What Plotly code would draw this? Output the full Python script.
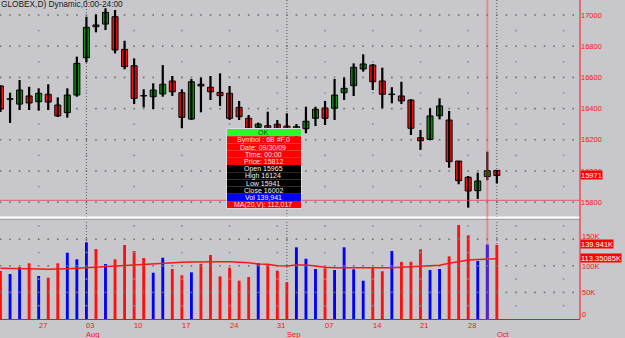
import plotly.graph_objects as go

# ---------------- data ----------------
dates = ["07/21/09", "07/22/09", "07/23/09", "07/24/09",
         "07/27/09", "07/28/09", "07/29/09", "07/30/09", "07/31/09",
         "08/03/09", "08/04/09", "08/05/09", "08/06/09", "08/07/09",
         "08/10/09", "08/11/09", "08/12/09", "08/13/09", "08/14/09",
         "08/17/09", "08/18/09", "08/19/09", "08/20/09", "08/21/09",
         "08/24/09", "08/25/09", "08/26/09", "08/27/09", "08/28/09",
         "08/31/09", "09/01/09", "09/02/09", "09/03/09", "09/04/09",
         "09/07/09", "09/08/09", "09/09/09", "09/10/09", "09/11/09",
         "09/14/09", "09/15/09", "09/16/09", "09/17/09", "09/18/09",
         "09/21/09", "09/22/09", "09/23/09", "09/24/09", "09/25/09",
         "09/28/09", "09/29/09", "09/30/09", "10/01/09"]

opens = [16545, 16460, 16429, 16481, 16444, 16492, 16423, 16374, 16487, 16726,
         16936, 16942, 16989, 16780, 16675, 16481, 16476, 16494, 16577, 16502,
         16333, 16556, 16537, 16504, 16498, 16408, 16338, 16280, 16290, 16300,
         16288, 16240, 16271, 16338, 16404, 16402, 16502, 16547, 16654, 16679,
         16577, 16490, 16481, 16455, 16213, 16203, 16354, 16327, 16064, 15960,
         15874, 15965, 16004]
highs = [16550, 16502, 16583, 16540, 16530, 16556, 16472, 16530, 16733, 16989,
         17004, 17043, 17032, 16835, 16722, 16524, 16562, 16679, 16609, 16524,
         16590, 16598, 16609, 16626, 16545, 16449, 16359, 16310, 16380, 16327,
         16370, 16301, 16412, 16412, 16449, 16590, 16598, 16690, 16748, 16686,
         16662, 16537, 16572, 16460, 16263, 16402, 16466, 16385, 16064, 15968,
         15989, 16124, 16006]
lows = [16378, 16308, 16391, 16391, 16387, 16391, 16346, 16342, 16476, 16697,
        16889, 16904, 16754, 16652, 16429, 16408, 16397, 16476, 16481, 16274,
        16327, 16376, 16455, 16417, 16327, 16327, 16237, 16230, 16200, 16210,
        16200, 16200, 16242, 16288, 16295, 16327, 16455, 16481, 16637, 16519,
        16402, 16434, 16429, 16231, 16135, 16198, 16331, 16021, 15915, 15765,
        15821, 15941, 15921]
closes = [16397, 16463, 16519, 16436, 16498, 16442, 16353, 16487, 16690, 16921,
          16925, 17017, 16776, 16669, 16466, 16481, 16519, 16556, 16508, 16344,
          16572, 16545, 16508, 16483, 16338, 16348, 16274, 16301, 16250, 16240,
          16230, 16284, 16319, 16396, 16338, 16487, 16530, 16665, 16686, 16572,
          16492, 16493, 16449, 16274, 16194, 16353, 16417, 16060, 15938, 15872,
          15936, 16002, 15971]
volumes = [90200, 84600, 97200, 104700, 80800, 77600, 104700, 124600, 112200, 144200,
           131600, 103400, 112200, 139100, 127800, 114700, 87000, 115200, 94000, 82100,
           87700, 103700, 120300, 80200, 96500, 72000, 79000, 104700, 101500, 90800,
           69000, 134800, 113300, 94000, 95300, 92100, 134800, 93400, 72000, 95300,
           89700, 127800, 107400, 107400, 131000, 92100, 94000, 117800, 176700, 157300,
           109000, 139941, 139500]
vol_ma20 = [95300, 95300, 94500, 94500, 94000, 93400, 93400, 94500, 95300, 96400,
            97200, 97700, 99100, 100200, 101500, 102800, 103400, 105300, 105800, 106600,
            107100, 107700, 107700, 107700, 107700, 107100, 105800, 103400, 102800, 100200,
            99600, 101500, 101500, 99600, 97200, 96400, 96400, 95300, 95300, 95300,
            96400, 96400, 97200, 98300, 99600, 100900, 100900, 104700, 107700, 110900,
            111800, 112017, 113350.85]

price_ticks = [15800, 16000, 16200, 16400, 16600, 16800, 17000]
price_minor = [15900, 16100, 16300, 16500, 16700, 16900]
vol_ticks = [0, 50000, 100000, 150000]
vol_tick_text = ["0", "50K", "100K", "150K"]
vol_minor = [25000, 75000, 125000, 175000]
day_labels = {"07/27/09": "27", "08/03/09": "03", "08/10/09": "10", "08/17/09": "17",
              "08/24/09": "24", "08/31/09": "31", "09/07/09": "07", "09/14/09": "14",
              "09/21/09": "21", "09/28/09": "28"}
month_labels = {"08/03/09": "Aug", "09/01/09": "Sep", "10/01/09": "Oct"}
title_text = "GLOBEX,D) Dynamic,0:00-24:00"
symbol = "6B #F,0"
cursor_date = "09/30/09"
cursor_time = "00:00"
cursor_price = 15812

# ---------------- geometry ----------------
W, H = 625, 338
ML, MR, MT, MB = 0, 45, 0, 19
PW, PH = W - ML - MR, H - MT - MB          # 580 x 319
SLOT = 9.545                                # px per trading day
X0 = -0.5 / SLOT
X1 = X0 + PW / SLOT
n_slots = int(X1) + 1
PRICE_BOTTOM_PX, VOL_TOP_PX = 216, 220
price_px_per_unit = 0.156
price_top = 17000 + 15 / price_px_per_unit
price_bot = 17000 - (PRICE_BOTTOM_PX - 15) / price_px_per_unit
vol_px_per_unit = 26.6 / 50000
vol_top = (PH - VOL_TOP_PX) / vol_px_per_unit


def xp(px):
    return px / PW


def yp(py):
    return (PH - py) / PH


BG = "#c8c7cc"
RED = "#ff1010"
GREEN = "#0f8f14"
BLUE = "#0000ff"
FONT = "Liberation Sans, Arial, sans-serif"

idx = list(range(len(dates)))
pos = {d: i for i, d in enumerate(dates)}
up = [c > o for o, c in zip(opens, closes)]

fig = go.Figure()

# grid dots (price panel)
gx, gy = [], []
for lv in price_ticks:
    for s in range(n_slots):
        gx.append(s); gy.append(lv)
mx, my = [], []
for lv in price_minor:
    for s in range(4, n_slots, 5):
        mx.append(s); my.append(lv)
fig.add_trace(go.Scatter(x=gx, y=gy, mode="markers", xaxis="x", yaxis="y",
                         marker=dict(symbol="square", size=1.6, color="#6e6e74"),
                         hoverinfo="skip"))
fig.add_trace(go.Scatter(x=mx, y=my, mode="markers", xaxis="x", yaxis="y",
                         marker=dict(symbol="square", size=1.6, color="#8a8aa6"),
                         hoverinfo="skip"))
# grid dots (volume panel)
gx2, gy2 = [], []
for lv in vol_ticks[1:]:
    for s in range(n_slots):
        gx2.append(s); gy2.append(lv)
mx2, my2 = [], []
for lv in vol_minor:
    for s in range(4, n_slots, 5):
        mx2.append(s); my2.append(lv)
fig.add_trace(go.Scatter(x=gx2, y=gy2, mode="markers", xaxis="x2", yaxis="y2",
                         marker=dict(symbol="square", size=1.6, color="#6e6e74"),
                         hoverinfo="skip"))
fig.add_trace(go.Scatter(x=mx2, y=my2, mode="markers", xaxis="x2", yaxis="y2",
                         marker=dict(symbol="square", size=1.6, color="#8a8aa6"),
                         hoverinfo="skip"))

# wicks
wx, wy = [], []
for i in idx:
    wx += [i, i, None]
    wy += [lows[i], highs[i], None]
fig.add_trace(go.Scatter(x=wx, y=wy, mode="lines", xaxis="x", yaxis="y",
                         line=dict(color="black", width=2.2), hoverinfo="skip"))

# bodies
bases = [min(o, c) for o, c in zip(opens, closes)]
heights = [max(abs(c - o), 2) for o, c in zip(opens, closes)]
body_colors = [GREEN if u else RED for u in up]
fig.add_trace(go.Bar(x=idx, y=heights, base=bases, width=0.63, xaxis="x", yaxis="y",
                     marker=dict(color=body_colors, line=dict(color="black", width=1)),
                     hoverinfo="skip"))

# volume
vcolors = [BLUE if u else RED for u in up]
fig.add_trace(go.Bar(x=idx, y=volumes, width=0.3, xaxis="x2", yaxis="y2",
                     marker=dict(color=vcolors, line=dict(width=0)), hoverinfo="skip"))
fig.add_trace(go.Scatter(x=idx, y=vol_ma20, mode="lines", xaxis="x2", yaxis="y2",
                         line=dict(color="#f21a1a", width=1.6), hoverinfo="skip"))

shapes = []
# month separators
for d in month_labels:
    shapes.append(dict(type="line", xref="x", yref="paper", x0=pos[d], x1=pos[d], y0=0, y1=1,
                       line=dict(color="#55555a", width=1, dash="1px,2px"), layer="below"))
# panel separator
shapes.append(dict(type="line", xref="paper", yref="paper", x0=0, x1=1, y0=yp(217.5), y1=yp(217.5),
                   line=dict(color="white", width=2)))
shapes.append(dict(type="line", xref="paper", yref="paper", x0=0, x1=1, y0=yp(219.5), y1=yp(219.5),
                   line=dict(color="#a6a6aa", width=1)))
# right axis line
shapes.append(dict(type="line", xref="paper", yref="paper", x0=1, x1=1, y0=0, y1=1,
                   line=dict(color=RED, width=1)))
# cursor lines
ci = pos[cursor_date]
shapes.append(dict(type="line", xref="x", yref="paper", x0=ci, x1=ci, y0=0, y1=1,
                   line=dict(color="rgba(255,70,70,0.45)", width=2)))
shapes.append(dict(type="line", xref="paper", yref="y", x0=0, x1=1, y0=cursor_price, y1=cursor_price,
                   line=dict(color="rgba(225,70,70,0.8)", width=1)))

# tooltip
tip_rows = [
    ("OK", "#2ef52e", "#0a5a0a"),
    (f"Symbol : {symbol}", "#ff0000", "#ffe4e4"),
    (f"Date: {cursor_date}", "#ff0000", "#ffe4e4"),
    (f"Time: {cursor_time}", "#ff0000", "#ffe4e4"),
    (f"Price: {cursor_price}", "#ff0000", "#ffe4e4"),
    (f"Open {opens[ci]}", "#000000", "#f0f0f0"),
    (f"High {highs[ci]}", "#000000", "#f0f0f0"),
    (f"Low {lows[ci]}", "#000000", "#f0f0f0"),
    (f"Close {closes[ci]}", "#000000", "#f0f0f0"),
    (f"Vol {volumes[ci]:,}", "#0000ff", "#ffffff"),
    (f"MA(20,V): {vol_ma20[ci]:,}", "#ff0000", "#ffe4e4"),
]
TL, TR, TT, RH = 227, 301, 129, 7.2
annotations = []
for k, (txt, bg, fg) in enumerate(tip_rows):
    top = TT + k * RH
    shapes.append(dict(type="rect", xref="paper", yref="paper", x0=xp(TL), x1=xp(TR),
                       y0=yp(top + RH), y1=yp(top), fillcolor=bg, line=dict(width=0)))
    annotations.append(dict(xref="paper", yref="paper", x=xp(263), y=yp(top + RH / 2),
                            text=txt, showarrow=False, xanchor="center", yanchor="middle",
                            font=dict(family=FONT, size=7, color=fg), borderpad=0))
shapes.append(dict(type="rect", xref="paper", yref="paper", x0=xp(TL - 0.5), x1=xp(TR + 0.5),
                   y0=yp(TT + 11 * RH + 0.5), y1=yp(TT - 0.5), line=dict(color="#dedede", width=1)))

# title
annotations.append(dict(xref="paper", yref="paper", x=0, y=1, xanchor="left", yanchor="top",
                        text=title_text, showarrow=False, borderpad=0, yshift=2,
                        font=dict(family=FONT, size=8.3, color="#1a1a1a")))
# x labels
for d, t in day_labels.items():
    annotations.append(dict(xref="x", yref="paper", x=pos[d], y=yp(325), xanchor="left",
                            yanchor="middle", text=t, showarrow=False, borderpad=0, xshift=-1,
                            font=dict(family=FONT, size=7.5, color=RED)))
for d, t in month_labels.items():
    annotations.append(dict(xref="x", yref="paper", x=pos[d], y=yp(334), xanchor="left",
                            yanchor="middle", text=t, showarrow=False, borderpad=0, xshift=-1,
                            font=dict(family=FONT, size=7.5, color=RED)))
# volume axis labels (nudged away from the value boxes, as in the original)
vol_label_shift = {0: 5, 50000: 0, 100000: -1, 150000: 2.5}
for v, t in zip(vol_ticks, vol_tick_text):
    annotations.append(dict(xref="paper", yref="y2", x=1, y=v, xanchor="left", yanchor="middle",
                            text=t, showarrow=False, borderpad=0, xshift=1,
                            yshift=vol_label_shift[v],
                            font=dict(family=FONT, size=7.5, color=RED)))
# value boxes on right
for val, txt, yr in [(closes[-1], f"{closes[-1]}", "y"),
                     (volumes[ci], f"{volumes[ci] / 1000:.3f}K", "y2"),
                     (vol_ma20[-1], f"{vol_ma20[-1] / 1000:.5f}K", "y2")]:
    annotations.append(dict(xref="paper", yref=yr, x=1, y=val, xanchor="left", yanchor="middle",
                            text=txt, showarrow=False, bgcolor="#ff0000", borderpad=0, height=8,
                            yshift=0.7, font=dict(family=FONT, size=7.5, color="white")))

fig.update_layout(
    width=W, height=H, margin=dict(l=ML, r=MR, t=MT, b=MB),
    paper_bgcolor=BG, plot_bgcolor=BG, showlegend=False, hovermode=False,
    barmode="overlay", shapes=shapes, annotations=annotations,
    xaxis=dict(domain=[0, 1], range=[X0, X1], anchor="y", showgrid=False, zeroline=False,
               showticklabels=False, showline=False, fixedrange=True),
    xaxis2=dict(domain=[0, 1], range=[X0, X1], anchor="y2", matches="x", showgrid=False,
                zeroline=False, showticklabels=False, showline=True, linecolor=RED, linewidth=1,
                fixedrange=True),
    yaxis=dict(domain=[yp(PRICE_BOTTOM_PX), 1], range=[price_bot, price_top], side="right",
               anchor="x", showgrid=False, zeroline=False, showline=False, ticks="",
               tickvals=price_ticks, ticktext=[str(v) for v in price_ticks],
               tickfont=dict(family=FONT, size=7.5, color=RED), fixedrange=True),
    yaxis2=dict(domain=[0, yp(VOL_TOP_PX)], range=[0, vol_top], side="right", anchor="x2",
                showgrid=False, zeroline=False, showline=False, showticklabels=False,
                fixedrange=True),
)

fig.write_html("out.html", config={"displayModeBar": False})
